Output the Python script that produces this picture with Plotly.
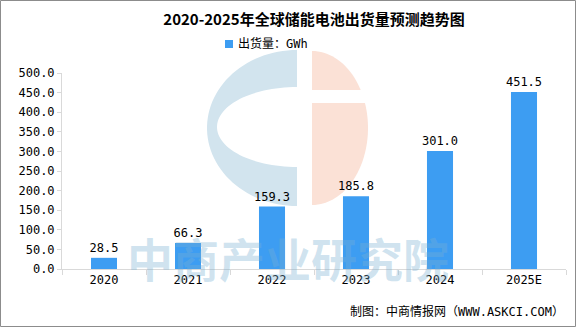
import numpy as np
import plotly.graph_objects as go

categories = ["2020", "2021", "2022", "2023", "2024", "2025E"]
values = [28.5, 66.3, 159.3, 185.8, 301.0, 451.5]
value_labels = ["28.5", "66.3", "159.3", "185.8", "301.0", "451.5"]
series_name = "出货量：GWh"
y_ticks = [0, 50, 100, 150, 200, 250, 300, 350, 400, 450, 500]
y_tick_labels = ["0.0", "50.0", "100.0", "150.0", "200.0", "250.0", "300.0", "350.0", "400.0", "450.0", "500.0"]

W, H = 576, 327
L, R, T, B = 62, 10, 73, 58
PW, PH = W - L - R, H - T - B
BAR_COLOR = "#3D9DF2"

def X(px):
    return (px - L) / PW

def Y(py):
    return (H - B - py) / PH

MONO = "DejaVu Sans Mono, Noto Sans CJK SC"

fig = go.Figure()
fig.add_trace(go.Bar(
    x=categories, y=values, name=series_name,
    marker=dict(color=BAR_COLOR, line=dict(width=0)),
    width=0.31,
    text=value_labels, textposition="outside", constraintext="none",
    textfont=dict(family=MONO, size=12, color="#000000"),
    cliponaxis=False, showlegend=False,
))

def poly(points):
    s = "M " + " L ".join(f"{X(px):.5f},{Y(py):.5f}" for px, py in points) + " Z"
    return s

# logo left part (ring-like half)
t_out = np.linspace(np.pi / 2, 3 * np.pi / 2, 60)
outer = [(297 + 90 * np.cos(a), 128 - 78 * np.sin(a)) for a in t_out]
t_in = np.linspace(3 * np.pi / 2, np.pi / 2, 60)
inner = [(297 + 80 * np.cos(a), 127 - 40 * np.sin(a)) for a in t_in]
left_pts = outer + [(297, 167)] + inner + [(297, 87)]
# logo right part
t_r = np.linspace(np.pi / 2, -np.pi / 2, 60)
right_pts = [(312, 51)] + [(312 + 56 * np.cos(a), 128 - 77 * np.sin(a)) for a in t_r] + [(312, 205)]

shapes = [
    dict(type="path", path=poly(left_pts), xref="paper", yref="paper",
         fillcolor="#D2E4EE", line=dict(width=0), layer="below"),
    dict(type="path", path=poly(right_pts), xref="paper", yref="paper",
         fillcolor="#FBE1D6", line=dict(width=0), layer="below"),
    dict(type="rect", xref="paper", yref="paper", x0=X(310), x1=X(372), y0=Y(103), y1=Y(90),
         fillcolor="#FFFFFF", line=dict(width=0), layer="below"),
    # legend swatch
    dict(type="rect", xref="paper", yref="paper", x0=X(225), x1=X(233), y0=Y(48), y1=Y(40),
         fillcolor=BAR_COLOR, line=dict(width=0), layer="above"),
    dict(type="rect", xref="paper", yref="paper", x0=X(0.5), x1=X(575.5), y0=Y(326.5), y1=Y(0.5),
         fillcolor="rgba(0,0,0,0)", line=dict(color="#8C8C8C", width=1), layer="above"),
]

annotations = [
    dict(text="<b>中商产业研究院</b>", xref="paper", yref="paper", x=X(288), y=Y(257),
         xanchor="center", yanchor="middle", showarrow=False,
         font=dict(family="Noto Sans CJK SC", size=46, color="rgba(120,175,210,0.35)")),
    dict(text=series_name, xref="paper", yref="paper", x=X(236), y=Y(44),
         xanchor="left", yanchor="middle", showarrow=False,
         font=dict(family=MONO, size=12, color="#000000")),
    dict(text="制图：中商情报网（WWW.ASKCI.COM）", xref="paper", yref="paper",
         x=X(566), y=Y(311), xanchor="right", yanchor="middle", showarrow=False,
         font=dict(family=MONO, size=12, color="#000000")),
]

fig.update_layout(
    width=W, height=H,
    margin=dict(l=L, r=R, t=T, b=B),
    paper_bgcolor="#FFFFFF", plot_bgcolor="#FFFFFF",
    title=dict(text="<b>2020-2025年全球储能电池出货量预测趋势图</b>", x=0.5, xref="paper",
               xanchor="center", y=1 - 20 / H, yanchor="middle",
               font=dict(family="Noto Sans CJK SC", size=15, color="#000000")),
    showlegend=False,
    shapes=shapes, annotations=annotations,
    bargap=0.5,
)
fig.update_xaxes(
    showgrid=False, showline=True, linecolor="#D9D9D9", linewidth=1,
    ticks="outside", ticklen=5, tickcolor="#D9D9D9", tickson="boundaries",
    tickfont=dict(family=MONO, size=12, color="#000000"),
)
fig.update_yaxes(
    range=[0, 500], showgrid=False, zeroline=False, showline=True, linecolor="#D9D9D9", linewidth=1,
    ticks="outside", ticklen=4, tickcolor="#D9D9D9",
    tickvals=y_ticks, ticktext=y_tick_labels,
    tickfont=dict(family=MONO, size=12, color="#000000"),
)

fig.write_html("out.html")
